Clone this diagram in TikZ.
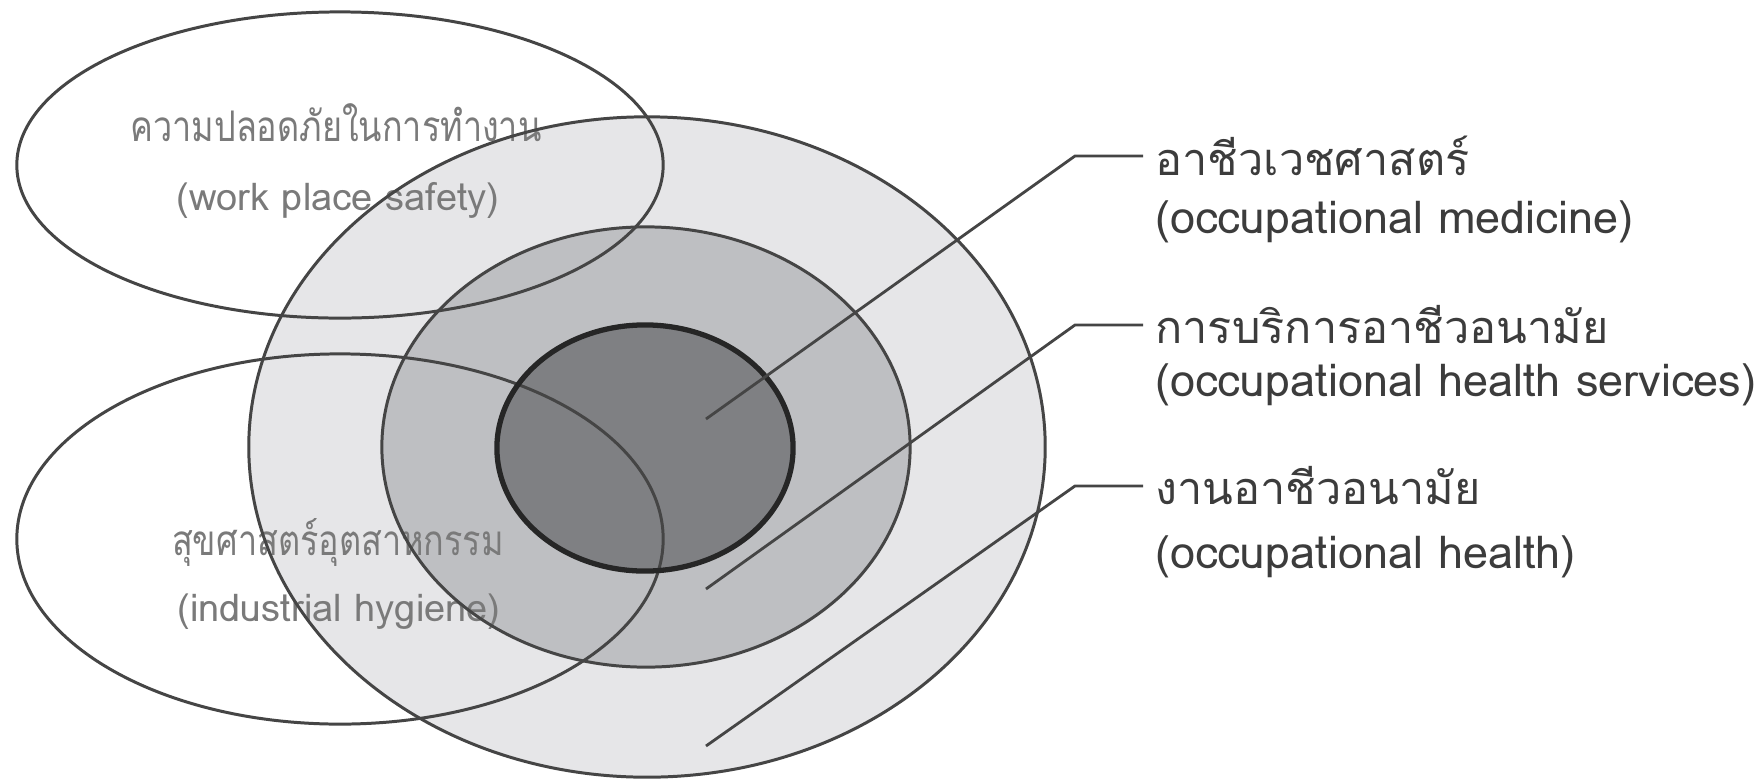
\documentclass[tikz,border=0pt]{standalone}
\usepackage{fontspec}
\setmainfont[Script=Thai]{Loma}
\newfontfamily\narrowthai[Script=Thai, FakeStretch=0.81]{Loma}
\usetikzlibrary{positioning}
\definecolor{ringa}{HTML}{E6E6E8}
\definecolor{ringb}{HTML}{BEBFC2}
\definecolor{ringc}{HTML}{7F8083}
\definecolor{edge}{HTML}{454545}
\definecolor{softtxt}{HTML}{7A7A7A}
\definecolor{darktxt}{HTML}{3C3C3C}
\tikzset{rim/.style = {draw=edge, line width=0.85pt}}
\tikzset{lead/.style = {draw=edge, line width=0.8pt}}
\tikzset{lbl/.style = {anchor=west, text=darktxt, font=\fontsize{12.8}{14}\selectfont}}
\tikzset{inlbl/.style = {text=softtxt, font=\fontsize{10.8}{13}\selectfont}}
\tikzset{inthai/.style = {text=softtxt, font=\narrowthai\fontsize{12}{14}\selectfont}}

\begin{document}
\begin{tikzpicture}[x=0.01cm, y=-0.01cm]
      \useasboundingbox[fill=white] (0,0) rectangle (1762,778);
      % nested zones
      \fill[ringa] (647,447) ellipse [x radius=3.98cm, y radius=3.30cm];
      \fill[ringb] (646,447) ellipse [x radius=2.64cm, y radius=2.20cm];
      \fill[ringc] (645,448) ellipse [x radius=1.48cm, y radius=1.23cm];
      % side fields
      \node[inthai] (safeth) at (336,123) {ความปลอดภัยในการทำงาน};
      \node[inlbl] (safeen) at (338,200) {(work place safety)};
      \node[inthai] (hygth) at (338,542) {สุขศาสตร์อุตสาหกรรม};
      \node[inlbl] (hygen) at (339,612) {(industrial hygiene)};
      % outlines
      \draw[rim] (647,447) ellipse [x radius=3.98cm, y radius=3.30cm];
      \draw[rim] (646,447) ellipse [x radius=2.64cm, y radius=2.20cm];
      \draw[rim] (340,165) ellipse [x radius=3.23cm, y radius=1.53cm];
      \draw[rim] (340,539) ellipse [x radius=3.23cm, y radius=1.85cm];
      \draw[line width=1.5pt, black!85] (645,448) ellipse [x radius=1.48cm, y radius=1.23cm];
      % labels
      \node[lbl] (medth) at (1143,156) {อาชีวเวชศาสตร์};
      \node[lbl] (meden) at (1143,222) {(occupational medicine)};
      \node[lbl] (srvth) at (1143,325) {การบริการอาชีวอนามัย};
      \node[lbl] (srven) at (1143,385) {(occupational health services)};
      \node[lbl] (ohth) at (1143,486) {งานอาชีวอนามัย};
      \node[lbl] (ohen) at (1143,557) {(occupational health)};
      % leaders
      \coordinate (medpt) at (706,419);
      \coordinate (srvpt) at (706,589);
      \coordinate (ohpt) at (706,746);
      \draw[lead] (medpt) -- ([xshift=-0.68cm]medth.west) -- (medth.west);
      \draw[lead] (srvpt) -- ([xshift=-0.68cm]srvth.west) -- (srvth.west);
      \draw[lead] (ohpt) -- ([xshift=-0.68cm]ohth.west) -- (ohth.west);
\end{tikzpicture}
\end{document}
